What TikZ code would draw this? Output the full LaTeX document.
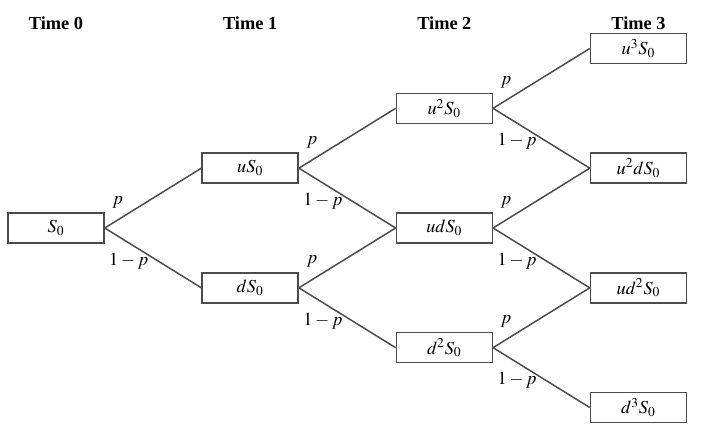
\documentclass[tikz,border=0pt]{standalone}
\usepackage{mathptmx}
\usepackage{fontspec}
\setmainfont{Liberation Serif}
\usetikzlibrary{positioning}

\tikzset{
  state/.style={draw=black!70, line width=0.9pt, minimum width=57.6pt,
    minimum height=18pt, inner sep=0pt, font=\fontsize{11}{13}\selectfont},
  head/.style={font=\fontsize{11}{13}\selectfont\bfseries},
  prob/.style={inner sep=0pt, font=\fontsize{11}{13}\selectfont},
  branch/.style={draw=black!70, line width=0.9pt},
}

% labels p and 1-p at the right side of a state
\newcommand{\probs}[1]{%
  \node[prob] (#1p) at ([shift={(13,-26)}]#1.east) {$p$};
  \node[prob] (#1q) at ([shift={(24,33)}]#1.east) {$1-p$};
}

\begin{document}
\begin{tikzpicture}[x=0.6pt, y=-0.6pt, node distance=17pt and 58pt]
\useasboundingbox (0,0) rectangle (704,430);

% Nodes
  \node[state] at (56,228)            (S0)   {$S_0$}; %
  \node[state, above right = of S0]   (u)    {$uS_0$}; %
  \node[state, below right = of S0]   (d)    {$dS_0$}; %
  \node[state, above right = of u]    (uu)   {$u^2S_0$}; %
  \node[state, below right = of u]    (ud)   {$udS_0$}; %
  \node[state, below right = of d]    (dd)   {$d^2S_0$}; %
  \node[state, above right = of uu]   (uuu)  {$u^3S_0$}; %
  \node[state, below right = of uu]   (uud)  {$u^2dS_0$}; %
  \node[state, below right = of ud]   (udd)  {$ud^2S_0$}; %
  \node[state, below right = of dd]   (ddd)  {$d^3S_0$}; %

% Headings
  \coordinate (top) at (0,23);
  \node[head] (t0) at (S0 |- top)  {Time 0}; %
  \node[head] (t1) at (u |- top)   {Time 1}; %
  \node[head] (t2) at (uu |- top)  {Time 2}; %
  \node[head] (t3) at (uuu |- top) {Time 3}; %

% Edges
  \foreach \a/\b in {S0/u, S0/d, u/uu, u/ud, d/ud, d/dd,
                     uu/uuu, uu/uud, ud/uud, ud/udd, dd/udd, dd/ddd}
    \draw[branch] (\a.east) -- (\b.west);

% Probabilities
  \foreach \n in {S0, u, d, uu, ud, dd}
    {\probs{\n}}

\end{tikzpicture}
\end{document}
